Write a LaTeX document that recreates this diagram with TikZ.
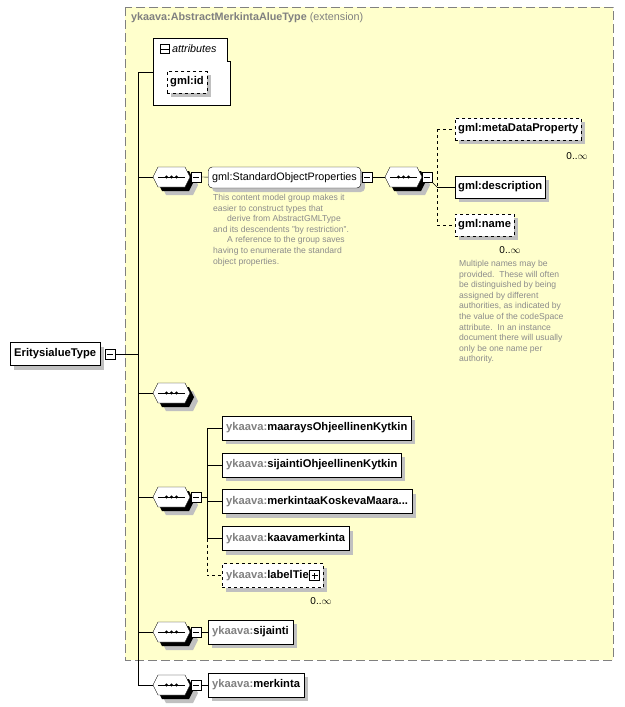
\documentclass[tikz,border=0pt]{standalone}
\usepackage{fontspec}
\setmainfont{Liberation Sans}
\definecolor{bgy}{RGB}{255,255,204}
\definecolor{tg}{RGB}{128,128,128}
\definecolor{dg}{RGB}{140,140,140}
\definecolor{shd}{RGB}{192,192,192}
\begin{document}
\begin{tikzpicture}[x=1pt,y=-1pt,
 shd/.style={preaction={fill=shd,transform canvas={shift={(4pt,-4pt)}}}},
 el/.style={draw,fill=white,rectangle,minimum height=23pt,inner sep=4pt,anchor=west,font=\bfseries\fontsize{11.2}{12}\selectfont,shd},
 opt/.style={el,dashed},
 seqn/.style={minimum width=37pt,minimum height=20pt,inner sep=0pt},
 mb/.style={draw,fill=white,minimum size=10pt,inner sep=0pt},
 note/.style={text=dg,font=\fontsize{8.6}{10.6}\selectfont,align=left,anchor=north west,inner sep=0pt},
 mult/.style={font=\fontsize{10}{11}\selectfont,inner sep=0pt}]
\useasboundingbox (0,0) rectangle (624,707);
\fill[bgy] (125,7) rectangle (613,660);
\draw[tg,dash pattern=on 9pt off 4pt] (125,7) rectangle (613,660);
\node[anchor=west,text=tg,font=\fontsize{10.8}{12}\selectfont,inner sep=0pt] (title) at (131,18) {\textbf{ykaava:AbstractMerkintaAlueType} (extension)};
% attributes
\draw[fill=white] (153,38) -- (227,38) -- (227,61) -- (230,61) -- (230,105) -- (153,105) -- cycle;
\node[mb,minimum size=9pt] (amb) at (165,49) {};
\draw (161,49) -- (169,49);
\node[anchor=west,font=\itshape\fontsize{10.8}{12}\selectfont,inner sep=0pt] (attr) at (172,49) {attributes};
\node[opt,minimum height=22pt,inner sep=3pt] (gid) at (167,82) {gml:id};
% main
\node[el,inner sep=4pt] (root) at (10,354) {EritysialueType};
\node[mb] (rmb) at (110,354) {};
\draw (107,354)--(113,354);
\coordinate (vt) at (138,72);
\coordinate (vb) at (138,685);
\draw (rmb) -- (138,354);
\draw (vt) -- (vb);
\draw (vt) -- (153,72);
\newcommand{\seqbox}[1]{%
 \begin{scope}[shift={(#1.center)}]
 \fill[shd] (-14.5,4) -- (-9.5,-6) -- (17.5,-6) -- (22.5,4) -- (17.5,14) -- (-9.5,14) -- cycle;
 \draw[fill=white] (-18.5,0) -- (-13.5,-10) -- (13.5,-10) -- (18.5,0) -- (13.5,10) -- (-13.5,10) -- cycle;
 \draw (-13.5,0) -- (13.5,0);
 \fill (-5,0) circle (1.6) (0,0) circle (1.6) (5,0) circle (1.6);
 \end{scope}}
\newcommand{\minus}[1]{\draw ([xshift=-3]#1.center)--([xshift=3]#1.center);}
% standard object properties
\node[seqn] (s1) at (171.5,177) {}; \seqbox{s1}
\node[mb] (s1m) at (196,177) {}; \minus{s1m}
\draw (138,177) -- (s1);
\node[el,rounded corners=4pt,font=\fontsize{10.8}{12}\selectfont,minimum height=21pt,inner sep=4pt] (sop) at (208,177.5) {gml:StandardObjectProperties};
\draw (s1m) -- (sop);
\node[mb] (sopm) at (367,177) {}; \minus{sopm}
\draw (sop) -- (sopm);
\node[seqn] (s2) at (403.5,177) {}; \seqbox{s2}
\node[mb] (s2m) at (427,177) {}; \minus{s2m}
\draw (sopm) -- (s2);
\node[note] (n1) at (213,194) {This content model group makes it\\easier to construct types that\\\hspace{14pt}derive from AbstractGMLType\\and its descendents "by restriction".\\\hspace{14pt}A reference to the group saves\\having to enumerate the standard\\object properties.};
\node[opt,minimum height=22pt,inner sep=3pt] (mdp) at (455,129) {gml:metaDataProperty};
\node[el,minimum height=22pt,inner sep=3pt] (desc) at (455,187) {gml:description};
\node[opt,minimum height=22pt,inner sep=3pt] (gname) at (455,225) {gml:name};
\draw (s2m) -- (437,187);
\draw[dashed] (437,129) -- (437,225);
\draw[dashed] (437,129) -- (mdp) (437,225) -- (gname);
\draw (437,187) -- (desc);
\node[mult] (m1) at (577,156) {0..$\infty$};
\node[mult] (m2) at (510,250) {0..$\infty$};
\node[note] (n2) at (459,260) {Multiple names may be\\provided.\ \ These will often\\be distinguished by being\\assigned by different\\authorities, as indicated by\\the value of the codeSpace\\attribute.\ \ In an instance\\document there will usually\\only be one name per\\authority.};
% empty seq
\node[seqn] (s3) at (171.5,393) {}; \seqbox{s3}
\draw (138,393) -- (s3);
% seq 4
\node[seqn] (s4) at (171.5,497) {}; \seqbox{s4}
\node[mb] (s4m) at (196,497) {}; \minus{s4m}
\draw (138,497) -- (s4);
\newcommand{\yk}{\textcolor{tg}{ykaava:}}
\node[el,minimum height=24pt] (e1) at (222,428) {\yk maaraysOhjeellinenKytkin};
\node[el,minimum height=24pt] (e2) at (222,465) {\yk sijaintiOhjeellinenKytkin};
\node[el,minimum height=24pt] (e3) at (222,501.5) {\yk merkintaaKoskevaMaara...};
\node[el,minimum height=24pt] (e4) at (222,538.5) {\yk kaavamerkinta};
\node[opt,minimum height=24pt] (e5) at (222,575.5) {\yk labelTieto\hspace{12pt}};
\node[mb] (e5p) at (e5.east) [xshift=-9pt] {}; \draw ([xshift=-3]e5p.center)--([xshift=3]e5p.center) ([yshift=-3]e5p.center)--([yshift=3]e5p.center);
\node[mult] (m3) at (321,601) {0..$\infty$};
\draw (s4m) -- (207,497);
\draw (207,428) -- (207,538.5);
\draw[dashed] (207,538.5) -- (207,575.5) -- (e5);
\foreach \e in {e1,e2,e3,e4} \draw (207,0 |- \e.west) -- (\e.west);
% sijainti
\node[seqn] (s5) at (171.5,632) {}; \seqbox{s5}
\node[mb] (s5m) at (196,632) {}; \minus{s5m}
\draw (138,632) -- (s5);
\node[el,minimum height=24pt] (sij) at (208,632) {\yk sijainti};
\draw (s5m) -- (sij);
% merkinta
\node[seqn] (s6) at (171.5,685) {}; \seqbox{s6}
\node[mb] (s6m) at (196,685) {}; \minus{s6m}
\draw (vb) -- (s6);
\node[el,minimum height=24pt] (mer) at (208,685) {\yk merkinta};
\draw (s6m) -- (mer);
\end{tikzpicture}
\end{document}
